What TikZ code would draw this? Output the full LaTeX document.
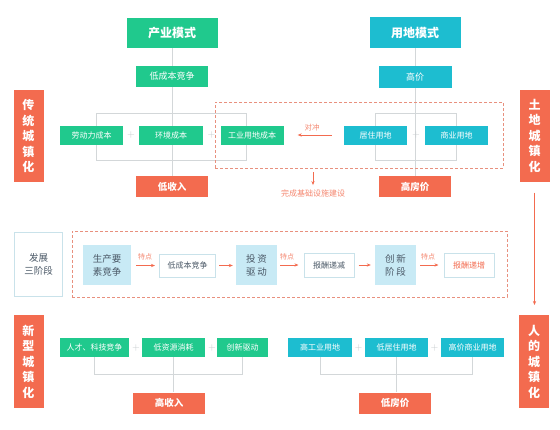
\documentclass[tikz,border=0pt]{standalone}
\usepackage{fontspec}
\newfontfamily\cjk{Noto Sans CJK SC}
\usetikzlibrary{arrows.meta,backgrounds}
\definecolor{cgreen}{HTML}{20C98D}
\definecolor{ccyan}{HTML}{1DBDD0}
\definecolor{corange}{HTML}{F36B4F}
\definecolor{clight}{HTML}{C8EAF5}
\definecolor{cgray}{HTML}{D3D7D9}
\definecolor{cplus}{HTML}{C4C9CC}
\definecolor{cdash}{HTML}{E8907E}
\definecolor{ctext}{HTML}{4A5866}
\definecolor{cborder}{HTML}{C9E2EA}
\begin{document}
\begin{tikzpicture}[x=1pt,y=-1pt,
  box/.style={inner sep=0pt, text=white, font=\cjk\fontsize{8}{10}\selectfont},
  gbox/.style={box, fill=cgreen},
  cbox/.style={box, fill=ccyan},
  obox/.style={box, fill=corange},
  title/.style={font=\cjk\bfseries\fontsize{12}{14}\selectfont},
  mid/.style={font=\cjk\fontsize{9}{11}\selectfont},
  big/.style={font=\cjk\bfseries\fontsize{9.5}{11}\selectfont},
  vlab/.style={obox, align=center, font=\cjk\bfseries\fontsize{12}{15.5}\selectfont, minimum width=30pt, minimum height=92pt},
  sz/.style 2 args={minimum width=#1pt, minimum height=#2pt},
  stagebox/.style={box, fill=clight, text=ctext, align=center, font=\cjk\fontsize{9.5}{13}\selectfont},
  featbox/.style={box, fill=white, draw=cborder, line width=1pt, text=ctext},
  dbox/.style={draw=cdash, line width=0.9pt, dash pattern=on 3pt off 2pt},
  link/.style={draw=cgray, line width=0.8pt},
  plus/.style={text=cplus, font=\fontsize{10}{10}\selectfont, inner sep=0pt},
  arr/.style={draw=corange, line width=0.8pt, -{Stealth[length=4pt,width=3.2pt]}},
  feat/.style={text=corange!80, font=\cjk\fontsize{7}{8}\selectfont, inner sep=0pt}
]
\useasboundingbox (0,0) rectangle (560,429);

% ---------- top: traditional ----------
\node[gbox, title, sz={91}{30}] (ind) at (172,33) {产业模式};
\node[cbox, title, sz={91}{31}] (land) at (415,32.5) {用地模式};
\node[gbox, mid, sz={72}{21}] (lc) at (172,76.5) {低成本竞争};
\node[cbox, mid, sz={73}{22}] (hp) at (415,77) {高价};

\node[vlab] (trad) at (28.5,136) {传\\统\\城\\镇\\化};
\node[vlab] (landu) at (534.5,135.5) {土\\地\\城\\镇\\化};

\node[dbox, minimum width=288pt, minimum height=66pt] (tbox) at (359,135) {};

\node[gbox, sz={63}{19}] (labor) at (91.5,135) {劳动力成本};
\node[gbox, sz={64}{19}] (env) at (171,135) {环境成本};
\node[gbox, sz={63}{19}] (indl) at (252,135) {工业用地成本};
\node[cbox, sz={63}{19}] (res) at (375.5,135) {居住用地};
\node[cbox, sz={63}{19}] (com) at (456.5,135) {商业用地};
\node[plus] (p1) at (131,135) {+};
\node[plus] (p2) at (211.5,135) {+};
\node[plus] (p3) at (416,135) {+};

\node[obox, big, sz={72}{21}] (lowinc) at (172,186.5) {低收入};
\node[obox, big, sz={72}{21}] (hhp) at (415,186.5) {高房价};

\node[feat, font=\cjk\fontsize{7.5}{8}\selectfont] (hedge) at (312,128) {对冲};
\node[feat, font=\cjk\fontsize{8}{9}\selectfont] (infra) at (313,193) {完成基础设施建设};

\begin{scope}[on background layer]
  \fill[white] (0,0) rectangle (560,429);
  \draw[link] (ind.south) -- (lc.north);
  \draw[link] (lc.south) -- (lowinc.north);
  \draw[link] (land.south) -- (hp.north);
  \draw[link] (hp.south) -- (hhp.north);
  \coordinate (ra) at (96,113);
  \coordinate (rb) at (246,160);
  \draw[link] (ra) rectangle (rb);
  \draw[link] (res.center |- ra) rectangle (com.center |- rb);
\end{scope}
\draw[arr, shorten <=12pt, shorten >=14pt] (res.west) -- (indl.east);
\draw[arr, shorten <=4pt, shorten >=4pt] (tbox.south -| infra) -- (infra.north);
\draw[arr, line width=0.9pt, shorten <=11pt, shorten >=10pt] (landu.south) -- (534.5,315);

% ---------- middle: three stages ----------
\node[box, fill=white, draw=cborder, line width=1.5pt, text=ctext, align=center,
      font=\cjk\fontsize{9.5}{13}\selectfont, sz={48}{64}] (stages) at (38.5,264.5) {发展\\三阶段};
\node[dbox, minimum width=435pt, minimum height=66pt] (mbox) at (289.5,264) {};

\node[stagebox, sz={48}{40}] (s1) at (107,265) {生产要\\素竞争};
\node[featbox, sz={56}{23}] (f1) at (187.5,265.5) {低成本竞争};
\node[stagebox, sz={41}{40}] (s2) at (256.5,265) {投\hspace{2pt}资\\驱\hspace{2pt}动};
\node[featbox, sz={50}{24}] (f2) at (329,265) {报酬递减};
\node[stagebox, sz={41}{40}] (s3) at (395.5,265) {创\hspace{2pt}新\\阶\hspace{2pt}段};
\node[featbox, sz={50}{24}, text=corange] (f3) at (469,265) {报酬递增};

\draw[arr, shorten <=5pt, shorten >=4pt] (s1.east |- f1) -- (f1.west);
\node[feat] (t1) at (145,257) {特点};
\draw[arr, shorten <=3pt, shorten >=3pt] (f1.east) -- (s2.west |- f1);
\draw[arr, shorten <=3pt, shorten >=5pt] (s2.east |- f2) -- (f2.west);
\node[feat] (t2) at (287,257) {特点};
\draw[arr, shorten <=4pt, shorten >=4pt] (f2.east) -- (s3.west |- f2);
\draw[arr, shorten <=4pt, shorten >=5pt] (s3.east |- f3) -- (f3.west);
\node[feat] (t3) at (428,257) {特点};

% ---------- bottom: new ----------
\node[vlab, minimum height=93pt] (newu) at (28.5,361.5) {新\\型\\城\\镇\\化};
\node[vlab, minimum height=93pt] (people) at (534,361.5) {人\\的\\城\\镇\\化};

\node[gbox, sz={69}{19}] (tal) at (94.5,347.5) {人才、科技竞争};
\node[gbox, sz={63}{19}] (lres) at (173.5,347.5) {低资源消耗};
\node[gbox, sz={51}{19}] (inn) at (242.5,347.5) {创新驱动};
\node[cbox, sz={64}{19}] (hil) at (320,347.5) {高工业用地};
\node[cbox, sz={63}{19}] (lrl) at (396.5,347.5) {低居住用地};
\node[cbox, sz={63}{19}] (hcl) at (472.5,347.5) {高价商业用地};
\node[plus] (p4) at (136,348) {+};
\node[plus] (p5) at (212,348) {+};
\node[plus] (p6) at (358.5,348) {+};
\node[plus] (p7) at (434.5,348) {+};

\node[obox, big, sz={72}{21}] (hinc) at (169,403) {高收入};
\node[obox, big, sz={72}{21}] (lhp) at (395,403) {低房价};

\begin{scope}[on background layer]
  \coordinate (by) at (0,374);
  \draw[link] (tal.center) -- (tal.center |- by) -- (inn.center |- by) -- (inn.center);
  \draw[link] (lres.center) -- (lres.center |- hinc.north);
  \draw[link] (hil.center) -- (hil.center |- by) -- (hcl.center |- by) -- (hcl.center);
  \draw[link] (lrl.center) -- (lrl.center |- lhp.north);
\end{scope}
\end{tikzpicture}
\end{document}
